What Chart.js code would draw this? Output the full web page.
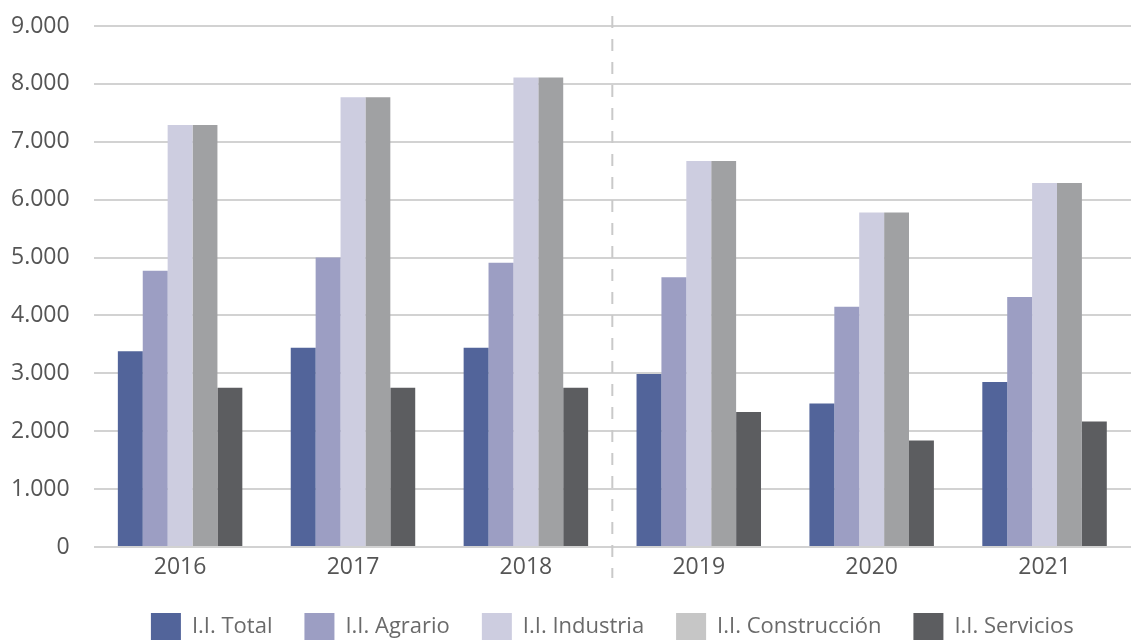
<!DOCTYPE html>
<html lang="es">
<head>
    <meta charset="UTF-8">
    <title>Indices por sector</title>
    <style>
        html, body { margin: 0; padding: 0; background: #fff; }
        .chart-container { position: relative; width: 1131px; height: 640px; }
    </style>
</head>
<body>
<script src="https://cdn.jsdelivr.net/npm/chart.js@4/dist/chart.umd.min.js"></script>

<div class="chart-container">
    <canvas id="grafico"></canvas>
</div>
<script>
    const years = ['2016', '2017', '2018', '2019', '2020', '2021']
    const total = [3380, 3440, 3440, 2990, 2480, 2850]
    const agrario = [4770, 5000, 4910, 4660, 4150, 4320]
    const industria = [7290, 7770, 8110, 6670, 5780, 6290]
    const construccion = [7290, 7770, 8110, 6670, 5780, 6290]
    const servicios = [2750, 2750, 2750, 2330, 1840, 2170]
    const yTicks = [0, 1000, 2000, 3000, 4000, 5000, 6000, 7000, 8000, 9000]

    const font = "'Open Sans', sans-serif"

    // dashed separator between 2018 and 2019
    const separator = {
        id: 'separator',
        afterDatasetsDraw(chart) {
            const x = chart.scales.x
            const px = (x.getPixelForTick(2) + x.getPixelForTick(3)) / 2
            const c = chart.ctx
            c.save()
            c.strokeStyle = '#c9c9c9'
            c.lineWidth = 2
            c.setLineDash([12, 11])
            c.beginPath()
            c.moveTo(px, 16)
            c.lineTo(px, 578)
            c.stroke()
            c.restore()
        }
    }

    // keep the legend box short, the padding is only wanted for spacing
    const legendHeight = {
        id: 'legendHeight',
        beforeInit(chart) {
            const fit = chart.legend.fit
            chart.legend.fit = function () {
                fit.call(this)
                this.height = 59
            }
        }
    }

    const ctx = document.getElementById('grafico').getContext('2d')
    const chart = new Chart(ctx, {
        type: 'bar',
        data: {
            labels: years,
            datasets: [
                {label: 'I.I. Total', data: total, backgroundColor: '#52649a', legendColor: '#52649a'},
                {label: 'I.I. Agrario', data: agrario, backgroundColor: '#9c9ec3', legendColor: '#9c9ec3'},
                {label: 'I.I. Industria', data: industria, backgroundColor: '#cdcde0', legendColor: '#cdcde0'},
                {label: 'I.I. Construcción', data: construccion, backgroundColor: '#a0a1a3', legendColor: '#c6c6c6'},
                {label: 'I.I. Servicios', data: servicios, backgroundColor: '#5c5d60', legendColor: '#5c5d60'}
            ]
        },
        options: {
            responsive: true,
            maintainAspectRatio: false,
            animation: false,
            layout: {padding: {top: 26, right: 0, left: 7, bottom: 0}},
            datasets: {bar: {barPercentage: 1, categoryPercentage: 0.72}},
            plugins: {
                tooltip: {enabled: false},
                legend: {
                    position: 'bottom',
                    fullSize: false,
                    labels: {
                        font: {family: font, size: 22},
                        color: '#6a6a6a',
                        boxWidth: 30,
                        boxHeight: 28,
                        padding: 32,
                        generateLabels(chart) {
                            return chart.data.datasets.map((ds, i) => ({
                                text: ds.label,
                                fillStyle: ds.legendColor,
                                strokeStyle: ds.legendColor,
                                lineWidth: 0,
                                fontColor: '#6a6a6a',
                                datasetIndex: i
                            }))
                        }
                    }
                }
            },
            scales: {
                x: {
                    grid: {display: false, drawTicks: false},
                    border: {display: false},
                    ticks: {font: {family: font, size: 23, lineHeight: 1.1}, color: '#555', padding: 8},
                    afterFit(axis) {
                        axis.height = 34
                    }
                },
                y: {
                    min: 0,
                    max: 9000,
                    afterBuildTicks(axis) {
                        axis.ticks = yTicks.map(v => ({value: v}))
                    },
                    grid: {color: '#d2d2d2', lineWidth: 2, drawTicks: true, tickLength: 20, tickColor: 'rgba(0,0,0,0)'},
                    border: {display: false},
                    ticks: {
                        font: {family: font, size: 23},
                        color: '#555',
                        padding: 4,
                        callback: v => v.toLocaleString('de-DE')
                    }
                }
            }
        },
        plugins: [separator, legendHeight]
    })
</script>
</body>
</html>
